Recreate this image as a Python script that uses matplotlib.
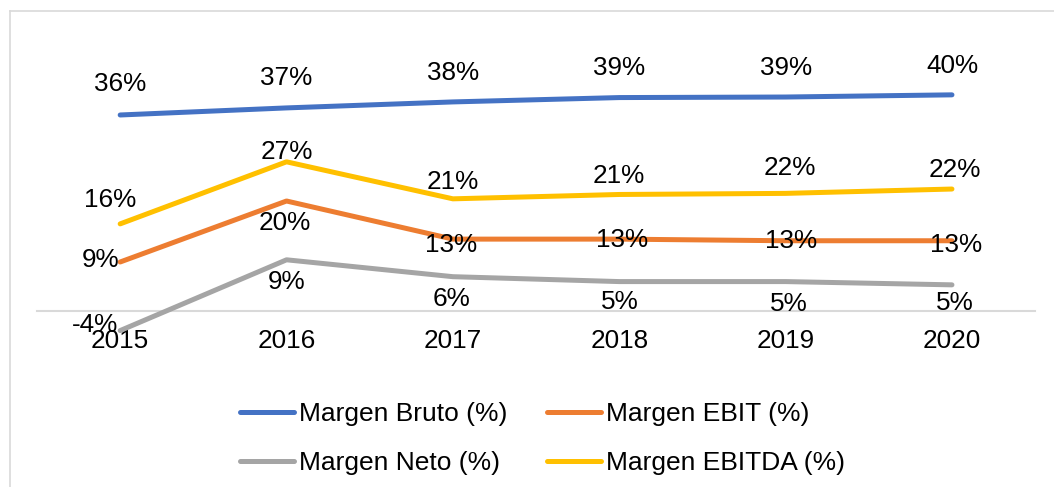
import numpy as np
import matplotlib.pyplot as plt
from matplotlib.lines import Line2D

plt.rcParams['font.family'] = ['Liberation Sans', 'DejaVu Sans']

years = ['2015', '2016', '2017', '2018', '2019', '2020']
bruto = [36.0, 37.3, 38.4, 39.2, 39.3, 39.7]
ebit = [9.0, 20.2, 13.2, 13.2, 12.9, 12.9]
neto = [-3.6, 9.4, 6.3, 5.4, 5.4, 4.8]
ebitda = [16.0, 27.4, 20.6, 21.4, 21.6, 22.4]

# label offsets in pixels (dx, dy), dy up is positive
off_bruto = [(0, 31), (0, 30), (0, 29), (0, 30), (0, 29), (0, 29)]
off_ebit = [(-20, 2), (-2, -22), (-2, -6), (3, -1), (5, 0), (4, -4)]
off_neto = [(-25, 6), (0, -22), (-1, -22), (1, -20), (3, -22), (3, -18)]
off_ebitda = [(-10, 24), (0, 10), (0, 17), (0, 18), (4, 25), (3, 19)]

FS = 18.8


def draw(ax, x, y, color, label, offs):
    ax.plot(x, y, color=color, lw=3.6, solid_capstyle='round',
            solid_joinstyle='round', label=label, zorder=3)
    for xi, yi, (dx, dy) in zip(x, y, offs):
        ax.annotate('{:.0f}%'.format(yi), (xi, yi), xytext=(dx, dy),
                    textcoords='offset pixels', ha='center', va='center',
                    fontsize=FS, color='black', zorder=5)


def main():
    fig = plt.figure(figsize=(10.54, 4.87), dpi=100)
    ax = fig.add_axes([0.0351, 0.272, 0.947, 0.5925])
    x = np.arange(len(years))

    draw(ax, x, bruto, '#4472C4', 'Margen Bruto (%)', off_bruto)
    draw(ax, x, ebit, '#ED7D31', 'Margen EBIT (%)', off_ebit)
    draw(ax, x, neto, '#A5A5A5', 'Margen Neto (%)', off_neto)
    draw(ax, x, ebitda, '#FFC000', 'Margen EBITDA (%)', off_ebitda)

    ax.set_xlim(-0.5, 5.5)
    ax.set_ylim(-8, 45)
    for s in ['top', 'right', 'left']:
        ax.spines[s].set_visible(False)
    ax.spines['bottom'].set_position('zero')
    ax.spines['bottom'].set_color('#D9D9D9')
    ax.spines['bottom'].set_linewidth(1.5)
    ax.spines['bottom'].set_zorder(1)
    ax.set_yticks([])
    ax.set_xticks(x)
    ax.set_xticklabels(years, fontsize=FS)
    ax.tick_params(axis='x', length=0, pad=13)
    ax.patch.set_alpha(0)

    h, l = ax.get_legend_handles_labels()
    order = [0, 2, 1, 3]
    fig.legend([h[i] for i in order], [l[i] for i in order], ncol=2,
               loc='center', bbox_to_anchor=(0.515, 0.1, ), frameon=False,
               fontsize=19, handlelength=2.05, handletextpad=0.19,
               columnspacing=1.5, labelspacing=0.95, borderpad=0)

    # chart area border (partially cropped)
    fig.add_artist(Line2D([0.0095, 0.0095], [0, 0.978], color='#D9D9D9', lw=1.2))
    fig.add_artist(Line2D([0.0095, 1.0], [0.978, 0.978], color='#D9D9D9', lw=1.2))

    fig.savefig('out.png', dpi=100)


main()
